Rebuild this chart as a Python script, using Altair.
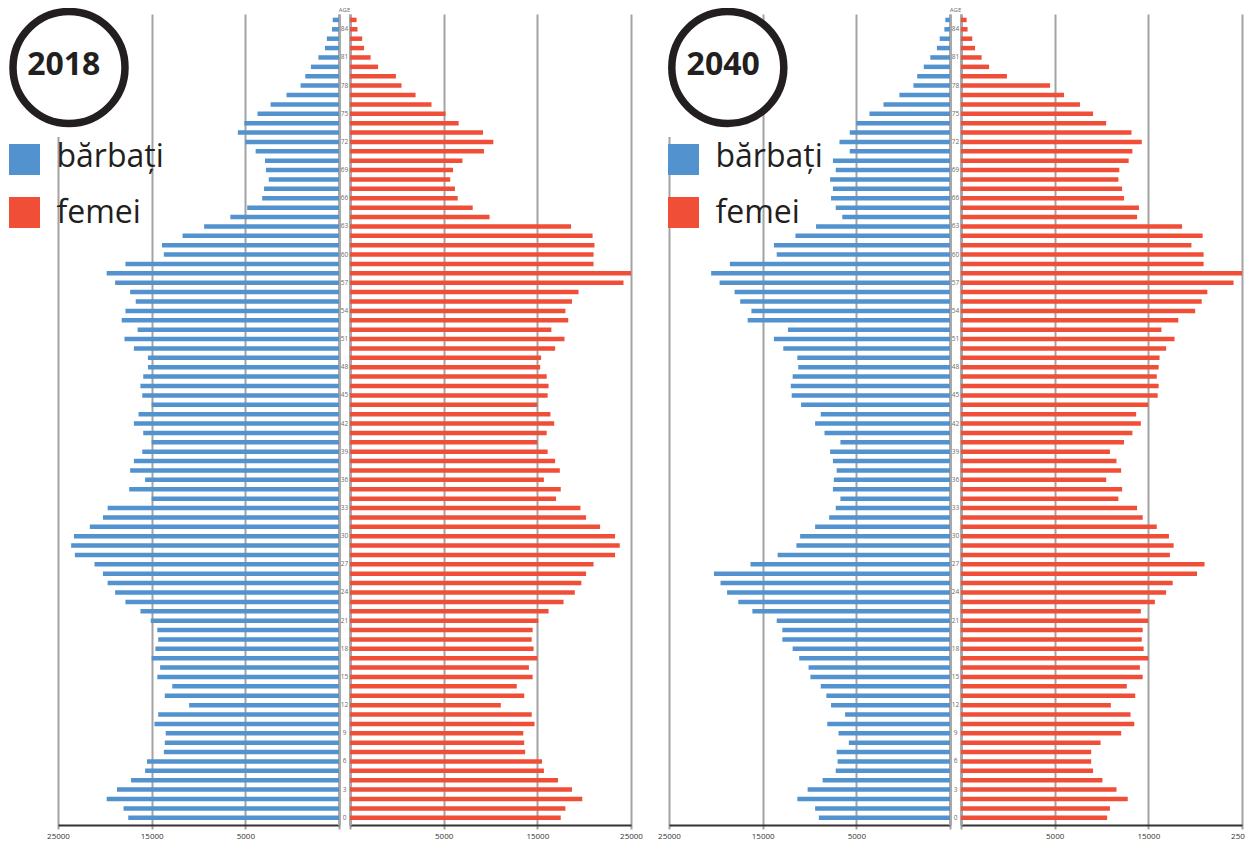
import altair as alt
import pandas as pd

# ---------------- data ----------------
ages = list(range(86))

male_2018 = [22500, 23000, 24800, 23700, 22200, 20700, 20500, 18700, 18600, 18500,
             19700, 19300, 16000, 18600, 17800, 19400, 19100, 20000, 19600, 19300,
             19400, 20100, 21200, 22800, 23900, 24700, 25200, 26100, 28200, 28600,
             28300, 26600, 25200, 24700, 20000, 22400, 20700, 22300, 21900, 21000,
             20000, 20900, 21900, 21400, 20000, 21000, 21200, 20900, 20400, 20400,
             21900, 22900, 21500, 23200, 22800, 21700, 22300, 23900, 24800, 22800,
             18700, 18900, 16700, 14400, 11600, 9800, 8200, 8000, 7500, 7800,
             7900, 8900, 10000, 10800, 10100, 8700, 7300, 5600, 4100, 3600,
             3000, 2200, 1500, 1300, 750, 670]

female_2018 = [22500, 23000, 24800, 23700, 22200, 20700, 20500, 18700, 18600, 18500,
               19700, 19400, 16100, 18600, 17800, 19500, 19100, 20000, 19600, 19400,
               19500, 20100, 21200, 22800, 24000, 24700, 25200, 26000, 28300, 28800,
               28300, 26700, 25200, 24600, 22000, 22500, 20700, 22400, 21900, 21100,
               20000, 21000, 21800, 21400, 20000, 21100, 21200, 21000, 20300, 20400,
               21900, 22900, 21500, 23300, 23000, 23700, 24400, 29200, 30000, 26000,
               26000, 26100, 25900, 23600, 14900, 13100, 11500, 11200, 10700, 11000,
               12000, 14300, 15300, 14200, 11600, 10200, 8700, 7000, 5500, 4900,
               3000, 2200, 1500, 1300, 800, 700]

male_2040 = [14000, 14400, 16300, 15200, 13600, 12200, 12000, 12100, 10800, 11900,
             13100, 11200, 12700, 13200, 13800, 14900, 15100, 16100, 16800, 17900,
             17900, 18500, 21100, 22600, 23800, 24500, 25200, 21300, 18400, 16400,
             16000, 14400, 12900, 12200, 11700, 12500, 12400, 12100, 12500, 12800,
             11700, 13400, 14400, 13800, 15900, 16900, 17000, 16800, 16200, 16300,
             17800, 18800, 17300, 21600, 21200, 22400, 23000, 24600, 25500, 23500,
             18500, 18800, 16500, 14300, 11500, 12200, 12700, 12500, 12800, 12200,
             12500, 10700, 11800, 10700, 10000, 8600, 7100, 5400, 3900, 3500,
             2800, 2100, 1400, 1100, 600, 500]

female_2040 = [15600, 15900, 17800, 16600, 15100, 14100, 13900, 13900, 14900, 17100,
               18500, 18100, 16000, 18600, 17700, 19400, 19100, 20000, 19500, 19300,
               19400, 20000, 19200, 20700, 21900, 22600, 25200, 26000, 22300, 22700,
               22200, 20900, 19400, 18800, 16800, 17200, 15500, 17100, 16600, 15900,
               17400, 18300, 19200, 18700, 20000, 21000, 21100, 20900, 21100, 21200,
               21900, 22800, 21400, 23200, 25000, 25700, 26300, 29100, 30000, 25900,
               25900, 24600, 25800, 23600, 18800, 19000, 17400, 17200, 16800, 16900,
               17900, 18300, 19300, 18200, 15500, 14100, 12700, 11000, 9500, 4900,
               3000, 2200, 1500, 1200, 700, 600]

age_labels = list(range(0, 85, 3))
tick_values = [0, 10000, 20000, 30000]
years = ["2018", "2040"]
legend_labels = ["bărbați", "femei"]

# ---------------- style ----------------
BLUE = "#5292ce"
RED = "#f04e37"
GRID = "#a3a3a3"
W = 281
CW = 11
GAP = 38
H = 811
Y_DOMAIN = [-0.77, 85.63]
FONT = "Open Sans"


def yscale():
    return alt.Scale(domain=Y_DOMAIN, nice=False, zero=False)


def x_axis():
    return alt.Axis(
        values=tick_values,
        labelExpr="datum.value == 0 ? '' : format(datum.value - 5000, 'd')",
        grid=True, gridColor=GRID, gridWidth=2,
        domainColor="#333333", domainWidth=2,
        tickColor=GRID, tickWidth=2, tickSize=4,
        labelFontSize=8, labelColor="#333333", labelFont=FONT,
        labelPadding=3, labelFlush=False, labelOverlap=False, title=None,
    )


def y_axis(orient):
    return alt.Axis(orient=orient, labels=False, ticks=False, grid=False,
                    domain=True, domainColor="#a8a8a8", domainWidth=3, title=None)


def bars(values, color, reverse, orient):
    df = pd.DataFrame({"age": ages, "value": values})
    return (
        alt.Chart(df)
        .transform_calculate(zero="0")
        .mark_rule(strokeWidth=4.5, color=color)
        .encode(
            y=alt.Y("age:Q", scale=yscale(), axis=y_axis(orient)),
            x=alt.X("value:Q", scale=alt.Scale(domain=[0, 30000], reverse=reverse, nice=False),
                    axis=x_axis()),
            x2="zero:Q",
        )
    )


def panel(year, mvals, fvals, cx, tx, sqx, lx):
    one = pd.DataFrame({"k": [0]})
    cover = alt.Chart(one).mark_rect(color="white").encode(
        x=alt.value(-5), x2=alt.value(5), y=alt.value(-2), y2=alt.value(123))
    circle = alt.Chart(one).mark_point(
        shape="circle", size=12544, filled=True, fill="white", stroke="#231f20",
        strokeWidth=7.5, strokeJoin="round", opacity=1).encode(x=alt.value(cx), y=alt.value(53.5))
    ytext = alt.Chart(one).mark_text(
        text=year, font=FONT, fontSize=32, fontWeight="bold", color="#231f20",
        align="center", baseline="alphabetic").encode(x=alt.value(tx), y=alt.value(61))
    sq_df = pd.DataFrame({"label": legend_labels, "yy": [145.5, 198.5]})
    squares = alt.Chart(sq_df).mark_point(shape="square", size=961, filled=True, opacity=1).encode(
        x=alt.value(sqx), y=alt.Y("yy:Q", scale=None),
        color=alt.Color("label:N", scale=alt.Scale(domain=legend_labels, range=[BLUE, RED]),
                        legend=None))
    lt_df = pd.DataFrame({"label": legend_labels, "yy": [152.7, 208.5]})
    ltext = alt.Chart(lt_df).mark_text(
        font=FONT, fontSize=32, color="#231f20", align="left", baseline="alphabetic").encode(
        x=alt.value(lx), y=alt.Y("yy:Q", scale=None), text="label:N")

    male = alt.layer(bars(mvals, BLUE, True, "right"), cover, circle, ytext, squares, ltext
                     ).resolve_scale(y="independent", color="independent").properties(width=W, height=H)

    lab_df = pd.DataFrame({"age": age_labels})
    mid = alt.layer(
        alt.Chart(lab_df).mark_text(font=FONT, fontSize=6.5, color="#6b6b6b",
                                    align="center", baseline="middle").encode(
            x=alt.value(CW / 2), y=alt.Y("age:Q", scale=yscale(), axis=None), text="age:Q"),
        alt.Chart(one).mark_text(text="AGE", font=FONT, fontSize=6, color="#6b6b6b",
                                 align="center", baseline="bottom").encode(
            x=alt.value(CW / 2), y=alt.value(-1)),
    ).properties(width=CW, height=H)

    female = bars(fvals, RED, False, "left").properties(width=W, height=H)
    return [male, mid, female]


p1 = panel(years[0], male_2018, female_2018, cx=11, tx=5.8, sqx=-33.5, lx=-1.5)
p2 = panel(years[1], male_2040, female_2040, cx=58.8, tx=54.2, sqx=14.5, lx=46.5)

spacer = alt.Chart(pd.DataFrame({"k": [0]})).mark_point(opacity=0).encode(
    x=alt.value(0), y=alt.value(0)).properties(width=GAP, height=H)

chart = alt.HConcatChart(hconcat=p1 + [spacer] + p2, spacing=0, bounds="flush").properties(
    padding={"left": 1, "top": -1, "right": -9, "bottom": 0}
).configure_view(stroke=None)

chart.save("out.html", embed_options={"renderer": "svg", "actions": False})
